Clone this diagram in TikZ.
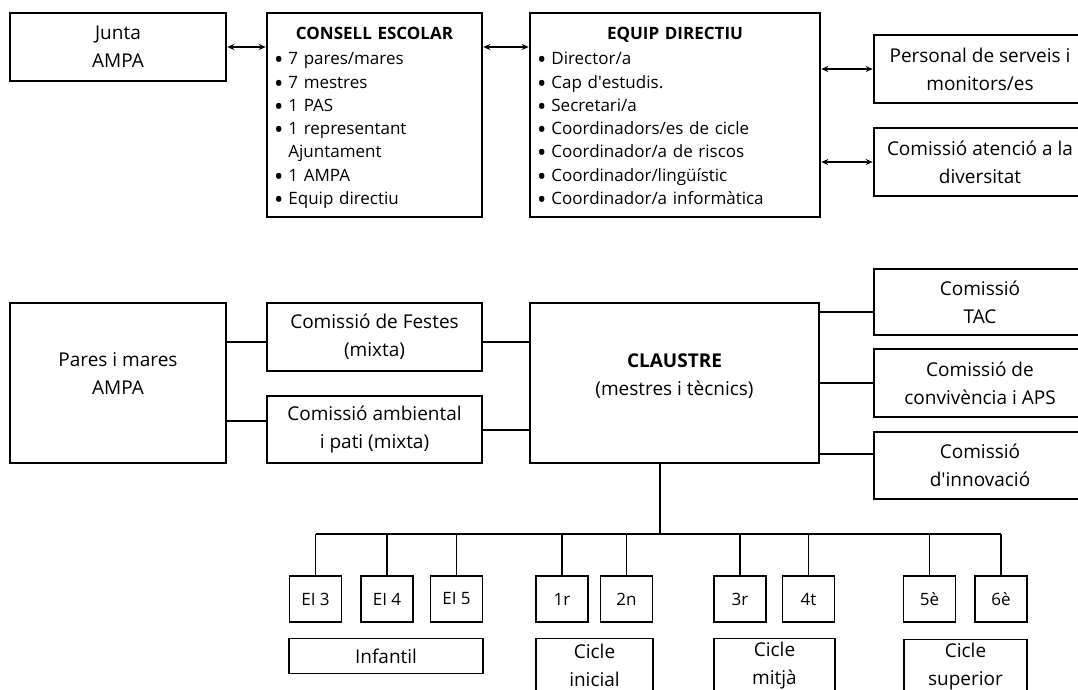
\documentclass[tikz,border=0pt]{standalone}
\usepackage{fontspec}
\setmainfont{Open Sans}
\usetikzlibrary{positioning,arrows.meta}
\newcommand{\listdot}{\raisebox{-4pt}{\fontsize{25}{0}\selectfont\textbullet}\hspace{5pt}}

\begin{document}
\begin{tikzpicture}
[x=1pt, y=-1pt,
bigbox/.style={rectangle, draw, line width=2.6pt, minimum width=216pt, minimum height=68pt, inner sep=0pt, align=center, font=\fontsize{19}{28}\selectfont},
listbox/.style={rectangle, draw, line width=2.6pt, minimum height=204pt, inner xsep=7pt, inner ysep=0pt, text height=18pt, align=left, font=\fontsize{17}{23.3}\selectfont},
gradebox/.style={rectangle, draw, line width=1.3pt, minimum width=52pt, minimum height=46pt, inner sep=0pt, font=\fontsize{17}{20}\selectfont},
cyclebox/.style={rectangle, draw, line width=1.3pt, anchor=north, inner sep=0pt, align=center, font=\fontsize{19}{28}\selectfont},
link/.style={line width=2pt},
twoway/.style={line width=1.6pt, {Stealth[length=7pt,width=6pt]}-{Stealth[length=7pt,width=6pt]}},
branch/.style={line width=1.8pt},
]
\useasboundingbox (0,0) rectangle (1078,690);

% top row
\node[bigbox]	(junta) at (118,47) {Junta\\AMPA};
\node[listbox, text width=201pt]	(consell) at (374.5,115) {\makebox[\hsize]{\bfseries CONSELL ESCOLAR}\\[2pt]
\listdot 7 pares/mares\\
\listdot 7 mestres\\
\listdot 1 PAS\\
\listdot 1 representant\\
\phantom{\listdot}Ajuntament\\
\listdot 1 AMPA\\
\listdot Equip directiu};
\node[listbox, text width=276pt]	(equip) at (675,115) {\makebox[\hsize]{\bfseries EQUIP DIRECTIU}\\[2pt]
\listdot Director/a\\
\listdot Cap d\textquotesingle estudis.\\
\listdot Secretari/a\\
\listdot Coordinadors/es de cicle\\
\listdot Coordinador/a de riscos\\
\listdot Coordinador/lingüístic\\
\listdot Coordinador/a informàtica};
\node[bigbox, minimum width=212pt]	(personal) at (980,69) {Personal de serveis i\\monitors/es};
\node[bigbox, minimum width=212pt]	(atencio) at (980,162) {Comissió atenció a la\\diversitat};

\draw[twoway] (junta.east) -- (junta.east -| consell.west);
\draw[twoway] (consell.east |- junta.east) -- (equip.west |- junta.east);
\draw[twoway] (equip.east |- personal.west) -- (personal.west);
\draw[twoway] (equip.east |- atencio.west) -- (atencio.west);

% middle row
\node[bigbox, minimum height=160pt, text depth=18pt]	(pares) at (118,383) {Pares i mares\\AMPA};
\node[bigbox, minimum width=215pt]	(festes) at (374.5,337) {Comissió de Festes\\(mixta)};
\node[bigbox, minimum width=215pt, minimum height=67pt]	(ambiental) at (374.5,429.5) {Comissió ambiental\\i pati (mixta)};
\node[bigbox, minimum width=289pt, minimum height=160pt, text depth=16pt]	(claustre) at (674.5,383) {\textbf{CLAUSTRE}\\(mestres i tècnics)};
\node[bigbox, minimum width=212pt, minimum height=66pt]	(tac) at (980,302) {Comissió\\TAC};
\node[bigbox, minimum width=212pt]	(convivencia) at (980,383) {Comissió de\\convivència i APS};
\node[bigbox, minimum width=212pt, minimum height=67pt]	(innovacio) at (980,465.5) {Comissió\\d\textquotesingle innovació};

\draw[link] ([yshift=-5pt]festes.west) -- ([yshift=-5pt]festes.west -| pares.east);
\draw[link] ([yshift=8.5pt]ambiental.west) -- ([yshift=8.5pt]ambiental.west -| pares.east);
\draw[link] ([yshift=-5pt]festes.east) -- ([yshift=-5pt]festes.east -| claustre.west);
\draw[link] (ambiental.east) -- (ambiental.east -| claustre.west);
\draw[link] ([yshift=-10pt]tac.west) -- ([yshift=-10pt]tac.west -| claustre.east);
\draw[link] (convivencia.west) -- (convivencia.west -| claustre.east);
\draw[link] ([yshift=11.5pt]innovacio.west) -- ([yshift=11.5pt]innovacio.west -| claustre.east);

% courses
\foreach \name/\x/\txt in {ei3/315.5/EI 3, ei4/387/EI 4, ei5/456.5/EI 5, primer/562/1r, segon/626.5/2n, tercer/740/3r, quart/808.5/4t, cinque/929.5/5è, sise/1001/6è}
  \node[gradebox] (\name) at (\x,599) {\txt};

\node[cyclebox, minimum width=194pt, minimum height=35pt]	(infantil) at (386,638) {Infantil};
\node[cyclebox, minimum width=117pt, minimum height=54pt]	(inicial) at (594.5,638) {Cicle\\inicial};
\node[cyclebox, minimum width=121pt, minimum height=54pt]	(mitja) at (774.5,638) {Cicle\\mitjà};
\node[cyclebox, minimum width=123pt, minimum height=54pt]	(superior) at (965.5,639) {Cicle\\superior};

\coordinate (bus) at (660,534);
\draw[branch] ([xshift=-14.5pt]claustre.south) -- (bus);
\draw[branch] (bus -| ei3.north) -- (bus -| sise.north);
\foreach \name in {ei3,ei4,ei5,primer,segon,tercer,quart,cinque,sise}
  \draw[branch] (\name.north) -- (\name.north |- bus);
\end{tikzpicture}
\end{document}
